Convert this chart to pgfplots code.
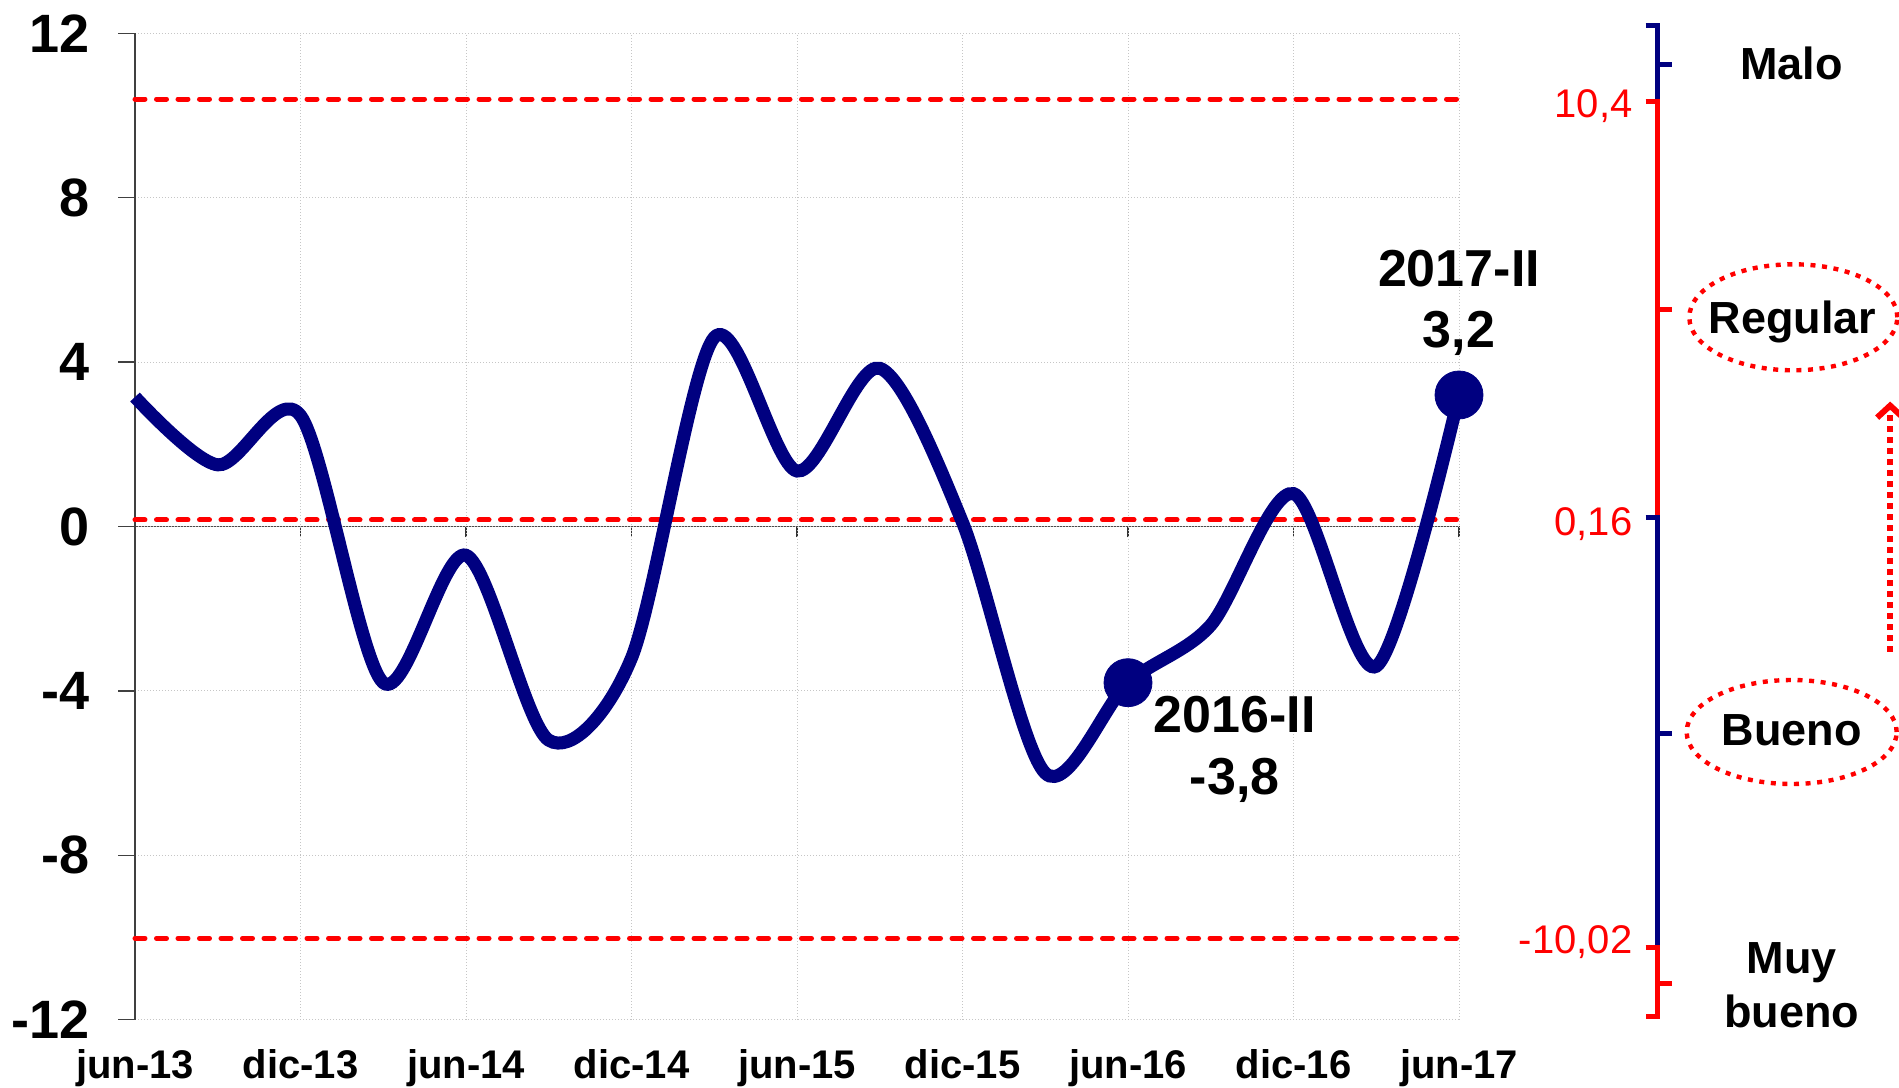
\documentclass[border=0pt]{standalone}
\usepackage{fontspec}
\setmainfont{Liberation Sans}
\usepackage{pgfplots}
\pgfplotsset{compat=1.18}
\usetikzlibrary{arrows.meta}
\definecolor{navy}{RGB}{0,0,128}
\definecolor{xred}{RGB}{255,0,0}
\begin{document}
\begin{tikzpicture}
% zero axis line with ticks
\begin{axis}[
  scale only axis, width=662pt, height=493.2pt,
  xmin=0, xmax=16, ymin=-12, ymax=12,
  axis x line=middle, axis y line=none,
  xtick={0,2,...,16}, xticklabels={},
  ytick=\empty,
  tick align=outside, major tick length=5.5pt,
  x axis line style={-, black!70, line width=0.7pt},
  x tick style={black!80, line width=0.7pt},
]
\addplot[draw=none] coordinates {(0,0) (16,0)};
\end{axis}
\begin{axis}[
  scale only axis, width=662pt, height=493.2pt,
  xmin=0, xmax=16, ymin=-12, ymax=12,
  axis y line*=left, axis x line*=bottom,
  x axis line style={draw=none},
  y axis line style={-, black!75, line width=0.7pt},
  xtick={0,2,...,16},
  xticklabels={jun-13,dic-13,jun-14,dic-14,jun-15,dic-15,jun-16,dic-16,jun-17},
  ytick={-12,-8,...,12},
  yticklabels={-12,-8,-4,0,4,8,12},
  tick align=outside, major tick length=8.5pt,
  x tick style={draw=none},
  y tick style={black!75, line width=0.7pt},
  grid=major, major grid style={gray!45, line width=0.5pt, densely dotted},
  yticklabel style={font=\fontsize{27}{27}\selectfont\bfseries, anchor=east, inner sep=0pt, xshift=-14pt},
  xticklabel style={font=\fontsize{20}{20}\selectfont\bfseries, anchor=base, inner sep=0pt, yshift=-21pt},
  clip=false,
]
\addplot[xred, line width=2.5pt, line cap=round, dash pattern=on 5pt off 5.75pt] coordinates {(0,10.4) (16,10.4)};
\addplot[xred, line width=2.5pt, line cap=round, dash pattern=on 5pt off 5.75pt] coordinates {(0,0.16) (16,0.16)};
\addplot[xred, line width=2.5pt, line cap=round, dash pattern=on 5pt off 5.75pt] coordinates {(0,-10.02) (16,-10.02)};
\addplot[navy, line width=6.5pt, smooth] coordinates {
 (0,3.15) (1,1.5) (2,2.7) (3,-3.8) (4,-0.7) (5,-5.2) (6,-3.2) (7,4.6) (8,1.35)
 (9,3.85) (10,0.1) (11,-6.0) (12,-3.8) (13,-2.4) (14,0.8) (15,-3.4) (16,3.2)};
\addplot[only marks, mark=*, mark size=12pt, navy, mark options={fill=navy, draw=navy}] coordinates {(12,-3.8) (16,3.2)};
% annotations
\node[font=\fontsize{26}{26}\selectfont\bfseries, anchor=base] at (axis cs:16,5.83) {2017-II};
\node[font=\fontsize{26}{26}\selectfont\bfseries, anchor=base] at (axis cs:16,4.35) {3,2};
\node[font=\fontsize{26}{26}\selectfont\bfseries, anchor=base] at (axis cs:13.29,-5.02) {2016-II};
\node[font=\fontsize{26}{26}\selectfont\bfseries, anchor=base] at (axis cs:13.29,-6.53) {-3,8};
% right scale
\draw[navy, line width=2.5pt] (axis cs:18.256,12.18) -- (axis cs:18.40,12.18) -- (axis cs:18.40,10.34) -- (axis cs:18.256,10.34);
\draw[navy, line width=2.5pt] (axis cs:18.40,11.24) -- (axis cs:18.574,11.24);
\draw[xred, line width=2.5pt] (axis cs:18.256,10.34) -- (axis cs:18.40,10.34) -- (axis cs:18.40,0.23) -- (axis cs:18.256,0.23);
\draw[xred, line width=2.5pt] (axis cs:18.40,5.28) -- (axis cs:18.574,5.28);
\draw[navy, line width=2.5pt] (axis cs:18.256,0.23) -- (axis cs:18.40,0.23) -- (axis cs:18.40,-10.24) -- (axis cs:18.256,-10.24);
\draw[navy, line width=2.5pt] (axis cs:18.40,-5.03) -- (axis cs:18.574,-5.03);
\draw[xred, line width=2.5pt] (axis cs:18.256,-10.24) -- (axis cs:18.40,-10.24) -- (axis cs:18.40,-11.92) -- (axis cs:18.256,-11.92);
\draw[xred, line width=2.5pt] (axis cs:18.40,-11.11) -- (axis cs:18.574,-11.11);
\node[xred, font=\fontsize{20}{20}\selectfont, anchor=base east, inner sep=0pt] at (axis cs:18.10,9.95) {10,4};
\node[xred, font=\fontsize{20}{20}\selectfont, anchor=base east, inner sep=0pt] at (axis cs:18.10,-0.23) {0,16};
\node[xred, font=\fontsize{20}{20}\selectfont, anchor=base east, inner sep=0pt] at (axis cs:18.10,-10.39) {-10,02};
\node[font=\fontsize{22.5}{22.5}\selectfont\bfseries, anchor=base] at (axis cs:20.02,10.87) {Malo};
\node[font=\fontsize{22.5}{22.5}\selectfont\bfseries, anchor=base] at (axis cs:20.03,4.69) {Regular};
\node[font=\fontsize{22.5}{22.5}\selectfont\bfseries, anchor=base] at (axis cs:20.02,-5.34) {Bueno};
\node[font=\fontsize{22.5}{22.5}\selectfont\bfseries, anchor=base] at (axis cs:20.02,-10.87) {Muy};
\node[font=\fontsize{22.5}{22.5}\selectfont\bfseries, anchor=base] at (axis cs:20.02,-12.18) {bueno};
\draw[xred, line width=2.2pt, dash pattern=on 2.5pt off 3.3pt] (axis cs:20.04,5.09) ellipse [x radius=52pt, y radius=26.5pt];
\draw[xred, line width=2.2pt, dash pattern=on 2.5pt off 3.3pt] (axis cs:20.02,-5.0) ellipse [x radius=52.5pt, y radius=26pt];
\draw[xred, line width=3pt, dash pattern=on 3pt off 2.5pt, -{Straight Barb[length=6pt,width=13pt]}] (axis cs:21.21,-3.05) -- (axis cs:21.21,3.04);
\end{axis}
\pgfresetboundingbox
\useasboundingbox (-67.5pt,-33.65pt) rectangle (882pt,509.85pt);
\end{tikzpicture}
\end{document}
